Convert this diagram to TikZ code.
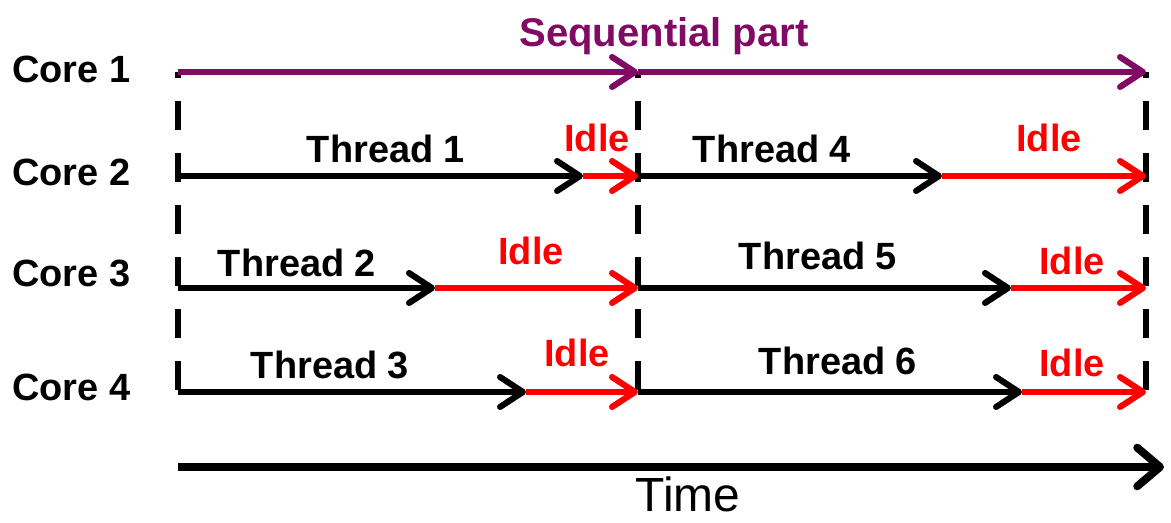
\documentclass[tikz,border=0pt]{standalone}
\usepackage{fontspec}
\setmainfont{Liberation Sans}
\usetikzlibrary{arrows.meta}
\definecolor{seqpurple}{RGB}{128,10,100}
\definecolor{idlered}{RGB}{255,0,0}
\begin{document}
\begin{tikzpicture}[x=0.02cm,y=-0.02cm,
  lbl/.style={font=\bfseries\fontsize{21.6}{26}\selectfont, inner sep=0pt, anchor=base},
  corelbl/.style={lbl, anchor=base west},
  idlelbl/.style={lbl, text=idlered},
  arr/.style={line width=3.5pt, -{Straight Barb[round,length=13pt,width=17pt]}},
  workarr/.style={arr, draw=black},
  idlearr/.style={arr, draw=idlered},
  seqarr/.style={arr, draw=seqpurple},
  sync/.style={line width=3.6pt, dash pattern=on 16.5pt off 13.1pt, dash phase=13.1pt},
  timearr/.style={line width=4.5pt, -{Straight Barb[round,length=13pt,width=22pt]}}
]
\useasboundingbox (0,0) rectangle (1171,523);

% coordinates
\coordinate (a0) at (178,72);  \coordinate (a1) at (638,72);  \coordinate (a2) at (1146,72);
\coordinate (b0) at (178,176); \coordinate (bm1) at (583,176); \coordinate (b1) at (638,176); \coordinate (bm2) at (942,176); \coordinate (b2) at (1146,176);
\coordinate (c0) at (178,288); \coordinate (cm1) at (435,288); \coordinate (c1) at (638,288); \coordinate (cm2) at (1011,288); \coordinate (c2) at (1146,288);
\coordinate (d0) at (178,392); \coordinate (dm1) at (526,392); \coordinate (d1) at (638,392); \coordinate (dm2) at (1022,392); \coordinate (d2) at (1146,392);
\coordinate (t0) at (178,467); \coordinate (t1) at (1164,467);

% sync dashed lines
\draw[sync] (a0) -- (d0);
\draw[sync] (a1) -- (d1);
\draw[sync] (a2) -- (d2);

% core labels
\node[corelbl] (core1) at (12,83) {Core 1};
\node[corelbl] (core2) at (12,186) {Core 2};
\node[corelbl] (core3) at (12,287) {Core 3};
\node[corelbl] (core4) at (12,401) {Core 4};

% sequential part
\draw[seqarr] (a0) -- (a1);
\draw[seqarr] (a1) -- (a2);
\node[lbl, text=seqpurple, font=\bfseries\fontsize{22.8}{27}\selectfont] (seq) at (664,47) {Sequential part};

% core 2
\draw[workarr] (b0) -- (bm1);
\draw[idlearr] (bm1) -- (b1);
\draw[workarr] (b1) -- (bm2);
\draw[idlearr] (bm2) -- (b2);
\node[lbl] (th1) at (386,163) {Thread 1};
\node[idlelbl] (i1) at (597,152) {Idle};
\node[lbl] (th4) at (772,163) {Thread 4};
\node[idlelbl] (i4) at (1049,152) {Idle};

% core 3
\draw[workarr] (c0) -- (cm1);
\draw[idlearr] (cm1) -- (c1);
\draw[workarr] (c1) -- (cm2);
\draw[idlearr] (cm2) -- (c2);
\node[lbl] (th2) at (297,277) {Thread 2};
\node[idlelbl] (i2) at (531,265) {Idle};
\node[lbl] (th5) at (818,270) {Thread 5};
\node[idlelbl] (i5) at (1072,275) {Idle};

% core 4
\draw[workarr] (d0) -- (dm1);
\draw[idlearr] (dm1) -- (d1);
\draw[workarr] (d1) -- (dm2);
\draw[idlearr] (dm2) -- (d2);
\node[lbl] (th3) at (330,379) {Thread 3};
\node[idlelbl] (i3) at (577,367) {Idle};
\node[lbl] (th6) at (838,375) {Thread 6};
\node[idlelbl] (i6) at (1072,377) {Idle};

% time axis
\draw[timearr] (t0) -- (t1);
\node[inner sep=0pt, anchor=base, font=\fontsize{27.3}{32}\selectfont] (time) at (688,512) {Time};
\end{tikzpicture}
\end{document}
